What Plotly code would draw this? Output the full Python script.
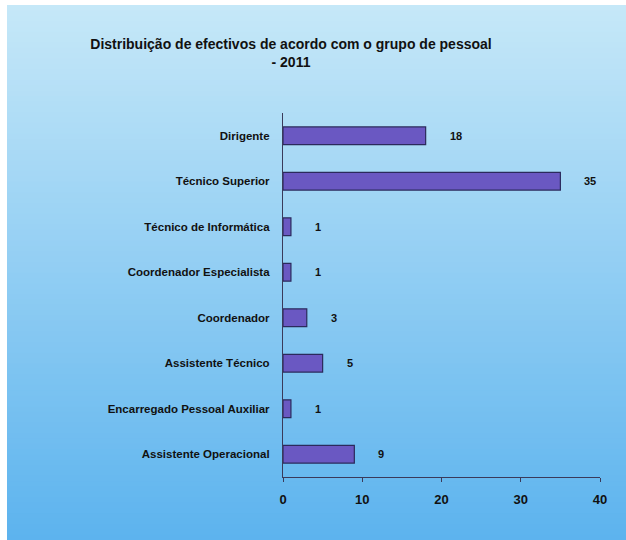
import plotly.graph_objects as go

categories = ["Dirigente", "Técnico Superior", "Técnico de Informática",
              "Coordenador Especialista", "Coordenador", "Assistente Técnico",
              "Encarregado Pessoal Auxiliar", "Assistente Operacional"]
values = [18, 35, 1, 1, 3, 5, 1, 9]
x_ticks = [0, 10, 20, 30, 40]
title_text = "Distribuição de efectivos de acordo com o grupo de pessoal<br>- 2011"

W, H = 626, 540
ML, MR, MT, MB = 283, 26, 113, 63
PW, PH = W - ML - MR, H - MT - MB
FONT = "Liberation Sans, Arial, sans-serif"

fig = go.Figure()

fig.add_trace(go.Bar(
    y=categories, x=values, orientation="h",
    marker=dict(color="#6a58c2", line=dict(color="#2b2a5c", width=1.2)),
    width=0.39, hoverinfo="x+y",
))

# value labels
for c, v in zip(categories, values):
    fig.add_annotation(x=v, y=c, text=str(v), showarrow=False,
                       xanchor="left", xshift=22,
                       font=dict(family=FONT, size=11, color="#111111", weight="bold"))

# vertical gradient background (white strip on the left and top)
top = (198, 232, 248)
bot = (92, 179, 238)
n = 100
px0, px1 = (7 - ML) / PW, (W - ML) / PW
py_bot, py_top = -MB / PH, (H - 5 - MB) / PH
step = (py_top - py_bot) / n
for i in range(n):
    t = (i + 0.5) / n
    col = tuple(round(top[k] + (bot[k] - top[k]) * t) for k in range(3))
    ya = py_top - step * i
    yb = py_top - step * (i + 1) - step * 0.6
    fig.add_shape(type="rect", xref="paper", yref="paper",
                  x0=px0, x1=px1, y0=max(yb, py_bot), y1=ya,
                  line=dict(width=0), fillcolor="rgb(%d,%d,%d)" % col,
                  layer="below")

fig.update_layout(
    width=W, height=H,
    paper_bgcolor="white", plot_bgcolor="rgba(0,0,0,0)",
    margin=dict(l=ML, r=MR, t=MT, b=MB),
    showlegend=False,
    title=dict(text=title_text, x=291 / W, xanchor="center", y=1 - 49 / H, yanchor="top",
               font=dict(family=FONT, size=14, color="#111111", weight="bold")),
    font=dict(family=FONT, color="#111111"),
)
fig.update_xaxes(range=[0, 40], tickvals=x_ticks, showgrid=False, zeroline=False,
                 showline=True, linecolor="#3a3a5a", linewidth=1.2,
                 ticks="outside", ticklen=4, tickcolor="#3a3a5a",
                 ticklabelstandoff=6,
                 tickfont=dict(size=13, family=FONT, color="#111111", weight="bold"))
fig.update_yaxes(autorange="reversed", showgrid=False, zeroline=False,
                 showline=True, linecolor="#3a3a5a", linewidth=1.2,
                 ticks="", ticklabelstandoff=10,
                 tickfont=dict(size=11.5, family=FONT, color="#111111", weight="bold"))

fig.write_html("out.html", config={"displayModeBar": False},
               post_script="document.body.style.margin='0';")
